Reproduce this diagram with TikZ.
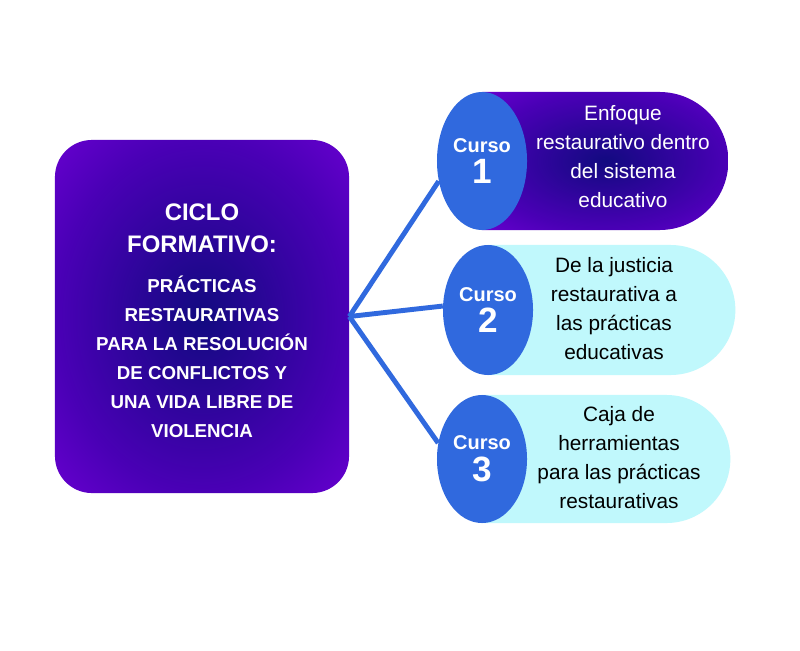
\documentclass[tikz,border=0pt]{standalone}
\usepackage{fontspec}
\setmainfont{Liberation Sans}
\usepackage{tikz}
\usetikzlibrary{shapes.geometric, shapes.misc, positioning}
\definecolor{cicloviolet}{RGB}{104, 0, 208}
\definecolor{ciclomid}{RGB}{74, 0, 182}
\definecolor{ciclonavy}{RGB}{18, 10, 128}
\definecolor{cursoblue}{RGB}{48, 105, 222}
\definecolor{lightcyan}{RGB}{192, 248, 252}
\pgfdeclareradialshading{ciclo}{\pgfpoint{0bp}{0bp}}{color(0bp)=(ciclonavy); color(25bp)=(ciclomid); color(36bp)=(cicloviolet); color(50bp)=(cicloviolet)}
\newcommand{\bigline}[1]{{\fontsize{17}{22.7}\selectfont #1}}
\tikzstyle{ciclo} = [rectangle, rounded corners=0.925cm, shading=ciclo, minimum width=7.35cm, minimum height=8.825cm]
\tikzstyle{ciclotext} = [text=white, align=center, font=\bfseries\fontsize{13.3}{20.6}\selectfont]
\tikzstyle{curso} = [ellipse, fill=cursoblue, text=white, align=center, inner sep=0pt, minimum width=2.25cm, font=\bfseries\fontsize{14.2}{22.7}\selectfont]
\tikzstyle{pill} = [rounded rectangle, rounded rectangle left arc=none, anchor=west, inner sep=0pt]
\tikzstyle{desc} = [align=center, font=\fontsize{14.8}{20.6}\selectfont]
\tikzstyle{link} = [cursoblue, line width=3.5pt]

\begin{document}
\begin{tikzpicture}[x=0.025cm, y=-0.025cm]
    \fill[white] (0,0) rectangle (800,650);
    \useasboundingbox (0,0) rectangle (800,650);

    % Main block
    \node[ciclo] (ciclo) at (202,316.5) {};
    \node[ciclotext] (title) at (202,321) {\bigline{CICLO}\\[2.1pt]\bigline{FORMATIVO:}\\[7.8pt]PRÁCTICAS\\RESTAURATIVAS\\PARA LA RESOLUCIÓN\\DE CONFLICTOS Y\\UNA VIDA LIBRE DE\\VIOLENCIA};

    % Course pills
    \node[pill, shading=ciclo, minimum width=6.15cm, minimum height=3.45cm] (p1) at (482,161) {};
    \node[pill, fill=lightcyan, minimum width=6.175cm, minimum height=3.25cm] (p2) at (488,310) {};
    \node[pill, fill=lightcyan, minimum width=6.2cm, minimum height=3.2cm] (p3) at (482,459) {};

    % Course numbers
    \node[curso, minimum height=3.45cm] (e1) at (482,161) {Curso\\{\fontsize{25}{22.7}\selectfont 1}};
    \node[curso, minimum height=3.25cm] (e2) at (488,310) {Curso\\{\fontsize{25}{22.7}\selectfont 2}};
    \node[curso, minimum height=3.2cm] (e3) at (482,459) {Curso\\{\fontsize{25}{22.7}\selectfont 3}};

    % Course titles
    \node[desc, text=white] (t1) at (623,157) {Enfoque\\restaurativo dentro\\del sistema\\educativo};
    \node[desc] (t2) at (614,309) {De la justicia\\restaurativa a\\las prácticas\\educativas};
    \node[desc] (t3) at (619,458) {Caja de\\herramientas\\para las prácticas\\restaurativas};

    % Links
    \foreach \n/\a in {1/205, 2/175, 3/160}
        \draw[link] (ciclo.east) -- (e\n.\a);
\end{tikzpicture}
\end{document}
